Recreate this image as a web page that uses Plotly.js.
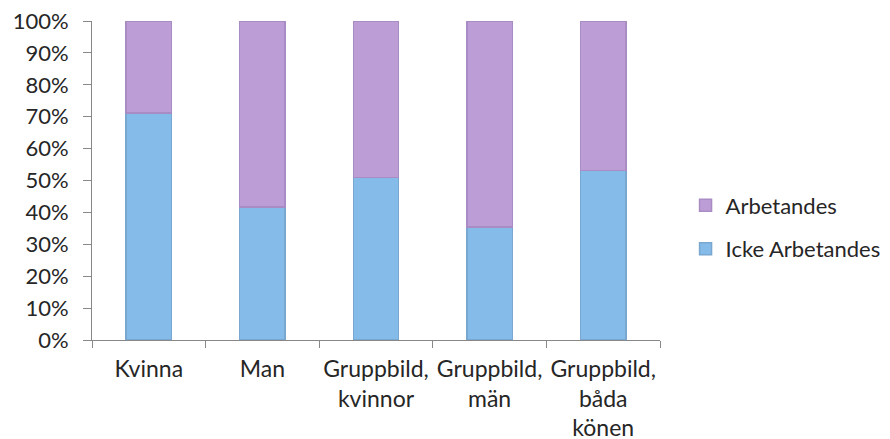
<!DOCTYPE html>
<html>
<head>
<meta charset="utf-8">
<script src="https://cdn.plot.ly/plotly-3.0.1.min.js"></script>
<style>html,body{margin:0;padding:0;background:#fff;}#chart{width:890px;height:439px;}</style>
</head>
<body>
<div id="chart"></div>
<script>
const categories = ["Kvinna", "Man", "Gruppbild,<br>kvinnor", "Gruppbild,<br>män", "Gruppbild,<br>båda<br>könen"];
const ickeArbetandes = [0.712, 0.417, 0.510, 0.355, 0.531];
const arbetandes = [0.288, 0.583, 0.490, 0.645, 0.469];
const yTickVals = [0, 0.1, 0.2, 0.3, 0.4, 0.5, 0.6, 0.7, 0.8, 0.9, 1.0];

const fontFamily = "Lato, 'Open Sans', sans-serif";
const textColor = "#262626";

const traces = [
  {
    type: "bar", name: "Icke Arbetandes", x: categories, y: ickeArbetandes,
    legendgroup: "icke", legendrank: 2,
    marker: {color: "#85BBE8", line: {color: "#79A7CF", width: 1.5}},
    hoverinfo: "none"
  },
  {
    type: "bar", name: "Arbetandes", x: categories, y: arbetandes,
    legendgroup: "arb", legendrank: 1,
    marker: {color: "#BC9DD6", line: {color: "#A98CC4", width: 1.5}},
    hoverinfo: "none"
  }
];

const layout = {
  width: 890, height: 439,
  margin: {l: 92, r: 230, t: 21, b: 99, pad: 0, autoexpand: false},
  paper_bgcolor: "#fff", plot_bgcolor: "#fff",
  barmode: "stack",
  bargap: 0.6,
  font: {family: fontFamily, size: 22, color: textColor},
  showlegend: true,
  legend: {
    x: 1.045, xanchor: "left", y: 0.353, yanchor: "middle",
    traceorder: "grouped", tracegroupgap: 12,
    font: {family: fontFamily, size: 22, color: textColor},
    bgcolor: "rgba(0,0,0,0)"
  },
  xaxis: {
    type: "category",
    showline: true, linecolor: "#888888", linewidth: 1,
    ticks: "outside", tickson: "boundaries", ticklen: 7, tickcolor: "#888888",
    showgrid: false, zeroline: false, tickangle: 0,
    tickfont: {family: fontFamily, size: 23, color: textColor},
    ticklabelstandoff: 8,
    fixedrange: true
  },
  yaxis: {
    range: [0, 1],
    tickvals: yTickVals, tickformat: ".0%",
    showline: true, linecolor: "#888888", linewidth: 1,
    ticks: "outside", ticklen: 8, tickcolor: "#888888",
    showgrid: false, zeroline: false,
    tickfont: {family: fontFamily, size: 22, color: textColor},
    ticklabelstandoff: 10,
    fixedrange: true
  }
};

Plotly.newPlot("chart", traces, layout, {displayModeBar: false, staticPlot: true});
</script>
</body>
</html>
